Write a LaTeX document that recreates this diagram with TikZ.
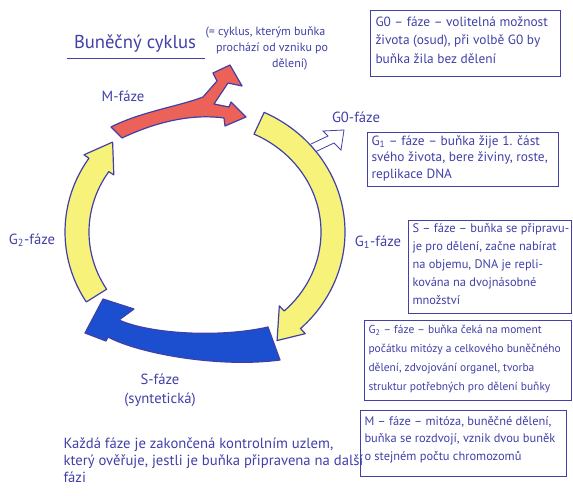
\documentclass[tikz,border=0pt]{standalone}
\usepackage{fontspec}
\setmainfont{PT Sans}
\usetikzlibrary{positioning}

\definecolor{ink}{RGB}{64,64,168}
\definecolor{phaseyellow}{RGB}{247,242,122}
\definecolor{phasered}{RGB}{236,98,88}
\definecolor{phaseblue}{RGB}{28,78,208}

\tikzset{every picture/.style={line width=0.75pt}}
\tikzset{
	phase/.style={draw=ink, line width=0.9pt, line join=round},
	infobox/.style={draw=ink, line width=0.6pt},
	hand/.style={text=ink, align=left, inner sep=0pt, font=\fontsize{10}{14}\selectfont},
	phaselabel/.style={text=ink, inner sep=0pt, font=\fontsize{11}{13}\selectfont}}

\begin{document}
\begin{tikzpicture}[x=0.75pt,y=0.75pt,yscale=-1,xscale=1]
	\useasboundingbox (0,0) rectangle (573,495);

	% Title
	\node[hand, font=\fontsize{14}{16}\selectfont] (title) at (135,44) {Buněčný cyklus};
	\draw[ink, line width=0.6pt] (67,58) -- (205,58);
	\node[hand, anchor=north west, font=\fontsize{9}{13}\selectfont] (cyclenote) at (205,26) {(= cyklus, kterým buňka\\[-1pt]\hspace{8pt}prochází od vzniku po\\[-1pt]\hspace{50pt}dělení)};

	% G0 side arrow
	\draw[ink, line width=0.6pt, fill=white] (311,144) -- (328,136) -- (323,131) -- (344,130) -- (341,150) -- (334,143) -- (315,152);

	\begin{scope}[shift={(205,232)}]
		%Shape: G1 arc (right)
		\draw[phase, fill=phaseyellow] (-65:140 and 132) arc[start angle=-65, end angle=47, x radius=140, y radius=132] -- (47:147 and 139) -- (58:136 and 128) -- (47:109 and 101) -- (47:116 and 108) arc[start angle=47, end angle=-65, x radius=116, y radius=108] -- cycle;
		%Shape: G2 arc (left)
		\draw[phase, fill=phaseyellow] (148:140 and 132) arc[start angle=148, end angle=214, x radius=140, y radius=132] -- (214:146 and 138) -- (226:133 and 125) -- (214:110 and 102) -- (214:116 and 108) arc[start angle=214, end angle=148, x radius=116, y radius=108] -- cycle;
	\end{scope}

	%Shape: S arrow (bottom)
	\draw[phase, fill=phaseblue] (268,327) .. controls (220,338) and (150,334) .. (119,320) -- (134,309) -- (103,299) -- (85,333) -- (106,341) -- (108,337) .. controls (140,354) and (220,368) .. (280,360) -- cycle;

	%Shape: M arrow (top)
	\draw[phase, fill=phasered] (111,127) .. controls (140,112) and (180,106) .. (203,97) -- (217,81) -- (213,73) -- (230,65) -- (242,86) -- (228,83) -- (214,104) -- (229,107) -- (231,102) -- (246,117) -- (225,126) -- (224,118) .. controls (195,114) and (160,120) .. (122,138) -- cycle;

	% Phase labels
	\node[phaselabel] (mlabel) at (123,96) {M-fáze};
	\node[phaselabel] (gzerolabel) at (356,117) {G0-fáze};
	\node[phaselabel] (gonelabel) at (378,242) {G\textsubscript{1}-fáze};
	\node[phaselabel] (gtwolabel) at (32,240) {G\textsubscript{2}-fáze};
	\node[phaselabel] (slabel) at (160,379) {S-fáze};
	\node[phaselabel, below=6pt of slabel] (ssublabel) {(syntetická)};

	% Info boxes
	\draw[infobox] (370,10) rectangle (560,76);
	\node[hand, anchor=north west] (gzerotext) at (375,16) {G0 – fáze – volitelná možnost\\života (osud), při volbě G0 by\\buňka žila bez dělení};
	\draw[infobox] (367,132) rectangle (558,186);
	\node[hand, anchor=north west, font=\fontsize{10}{12.5}\selectfont] (gonetext) at (371,135) {G\textsubscript{1} – fáze – buňka žije 1. část\\svého života, bere živiny, roste,\\replikace DNA};
	\draw[infobox] (408,220) rectangle (571,313);
	\node[hand, anchor=north west, font=\fontsize{9.3}{13.5}\selectfont] (stext) at (412,223) {S – fáze – buňka se připravu-\\je pro dělení, začne nabírat\\na objemu, DNA je repli-\\kována na dvojnásobné\\množství};
	\draw[infobox] (364,320) rectangle (571,400);
	\node[hand, anchor=north west, font=\fontsize{8.6}{14.2}\selectfont] (gtwotext) at (368,325) {G\textsubscript{2} – fáze – buňka čeká na moment\\počátku mitózy a celkového buněčného\\dělení, zdvojování organel, tvorba\\struktur potřebných pro dělení buňky};
	\draw[infobox] (360,410) rectangle (566,476);
	\node[hand, anchor=north west, font=\fontsize{9.3}{13}\selectfont] (mtext) at (364,416) {M – fáze – mitóza, buněčné dělení,\\buňka se rozdvojí, vznik dvou buněk\\o stejném počtu chromozomů};

	% Bottom note
	\node[hand, anchor=north west, font=\fontsize{11}{13}\selectfont] (checknote) at (63,437) {Každá fáze je zakončená kontrolním uzlem,\\který ověřuje, jestli je buňka připravena na další\\fázi};

\end{tikzpicture}
\end{document}
